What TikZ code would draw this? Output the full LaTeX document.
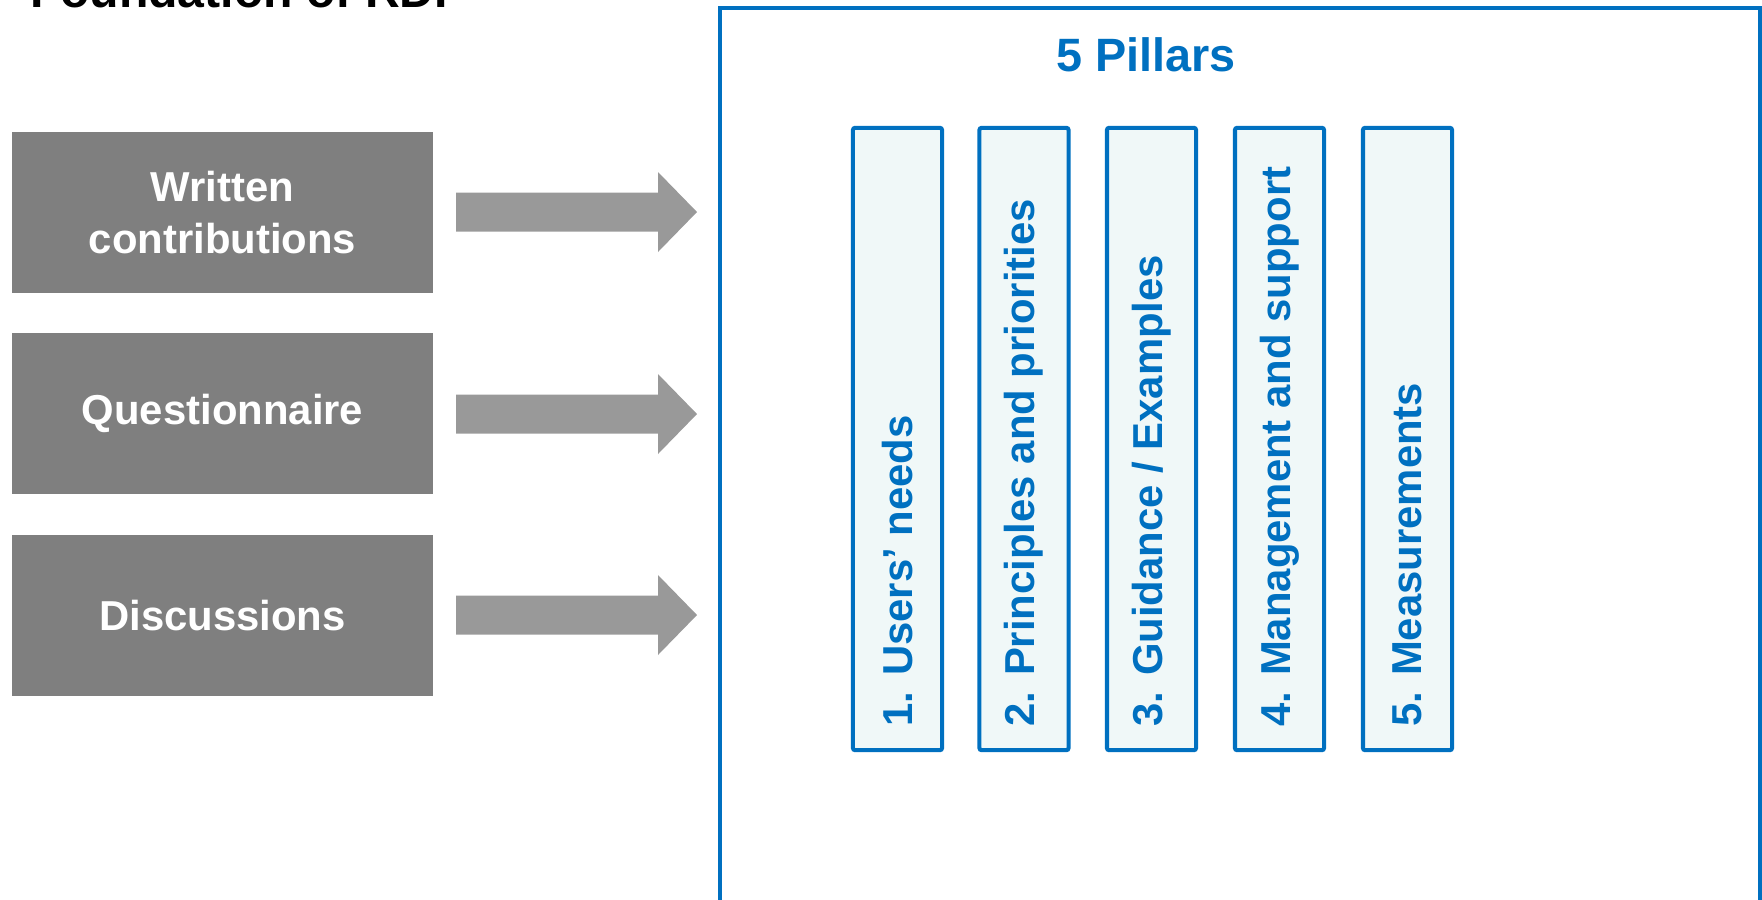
\documentclass[tikz,border=0pt]{standalone}
\usepackage{fontspec}
\setmainfont{Liberation Sans}
\definecolor{pblue}{RGB}{0,112,192}
\definecolor{boxgray}{RGB}{127,127,127}
\definecolor{arrgray}{RGB}{153,153,153}
\definecolor{pfill}{RGB}{240,248,248}
\begin{document}
\begin{tikzpicture}[x=0.01cm,y=-0.01cm,
  srcbox/.style={fill=boxgray, draw=none, minimum width=4.21cm, minimum height=1.61cm, inner sep=0pt,
    text=white, font=\fontsize{11.9pt}{15pt}\selectfont\bfseries, align=center},
  pillar/.style={draw=pblue, line width=1.15pt, fill=pfill, rounded corners=0.6pt, minimum width=0.89cm, minimum height=6.22cm, inner sep=0pt},
  pillartext/.style={rotate=90, anchor=west, inner sep=0pt, text=pblue, font=\fontsize{11.9pt}{14pt}\selectfont\bfseries},
  blockarrow/.style={fill=arrgray, draw=none}]
\useasboundingbox (0,0) rectangle (1762,899);
\clip (0,0) rectangle (1762,899);
% cut-off heading
\node[anchor=base west, inner sep=0pt, font=\fontsize{13.7pt}{16pt}\selectfont\bfseries] (head) at (30,7.5) {Foundation of RDI};
% source boxes
\node[srcbox] (w) at (222.5,212.5) {Written\\contributions};
\node[srcbox] (q) at (222.5,413.5) {Questionnaire};
\node[srcbox] (d) at (222.5,615.5) {Discussions};
% big box
\draw[pblue, line width=1.15pt] (720,8) rectangle (1760,930);
\node[text=pblue, font=\fontsize{13.3pt}{16pt}\selectfont\bfseries, inner sep=0pt] (title) at (1146,55) {5 Pillars};
% pillars
\foreach \i/\x/\t in {1/897.5/{1. Users’ needs},2/1024/{2. Principles and priorities},3/1151.5/{3. Guidance / Examples},4/1279.5/{4. Management and support},5/1407.5/{5. Measurements}}{
  \node[pillar] (p\i) at (\x,439) {};
  \node[pillartext] (t\i) at (\x,727) {\t};
}
% block arrows
\foreach \s/\yc in {w/212,q/414,d/615}{
  \coordinate (a\s) at (456,\yc);
  \fill[blockarrow] (a\s) ++(0,-19.5) -- ++(202,0) -- ++(0,-20.5) -- ++(39,40) -- ++(-39,40) -- ++(0,-20.5) -- ++(-202,0) -- cycle;
}
\end{tikzpicture}
\end{document}
